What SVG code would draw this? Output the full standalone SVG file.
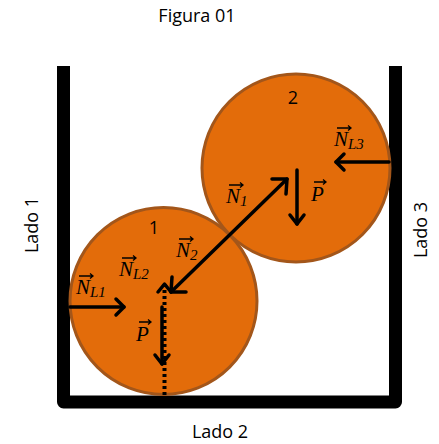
<svg xmlns="http://www.w3.org/2000/svg" width="439" height="444" viewBox="0 0 439 444">
<style>
.ball{fill:#E36C0A;stroke:#A3561A;stroke-width:3}
.vec{stroke:#000;stroke-width:3.5;fill:none;stroke-linecap:round}
.head{stroke:#000;stroke-width:3.5;fill:none;stroke-linecap:round;stroke-linejoin:round}
.lbl{font-family:"Open Sans","Liberation Sans",sans-serif;font-size:18px;fill:#000}
.m{font-family:"Liberation Serif",serif;font-style:italic;font-size:21px;fill:#000}
.s{font-size:15px}
.va{stroke:#000;stroke-width:1.3;fill:none}
</style>
<text class="lbl" x="197" y="22" text-anchor="middle">Figura 01</text>
<g id="container">
<path d="M63.5 66 V402 H395.5 V66" fill="none" stroke="#000" stroke-width="13" stroke-linejoin="round"/>
</g>
<text class="lbl" x="220" y="438" text-anchor="middle">Lado 2</text>
<text class="lbl" transform="translate(38,225) rotate(-90)" text-anchor="middle">Lado 1</text>
<text class="lbl" transform="translate(427,230) rotate(-90)" text-anchor="middle">Lado 3</text>
<g id="ball1">
<circle class="ball" cx="163.5" cy="301" r="93.5"/>
<text class="lbl" x="154" y="234" text-anchor="middle">1</text>
</g>
<g id="ball2">
<circle class="ball" cx="296" cy="168" r="94"/>
<text class="lbl" x="293" y="104" text-anchor="middle">2</text>
</g>
<g id="connectors">
<line class="vec" x1="171" y1="292" x2="287" y2="179"/>
<polyline class="head" points="186,292 171,292 172,277"/>
<polyline class="head" points="272,179 287,179 286,194"/>
<line class="vec" x1="70" y1="307" x2="124" y2="307"/>
<polyline class="head" points="116,299 124,307 116,315"/>
<line x1="164.5" y1="284" x2="164.5" y2="396" stroke="#000" stroke-width="4" stroke-dasharray="3,3"/>
<polyline class="head" points="158,292 164.5,284 171,292"/>
<line class="vec" x1="162" y1="307" x2="162" y2="364"/>
<polyline class="head" points="155,355 162,364 169,355"/>
<line class="vec" x1="297" y1="170" x2="297" y2="224"/>
<polyline class="head" points="290,215 297,224 304,215"/>
<line class="vec" x1="389" y1="162" x2="336" y2="162"/>
<polyline class="head" points="344,154 336,162 344,170"/>
</g>
<g id="labels">
<text class="m" x="76" y="294">N<tspan class="s" dy="3">L1</tspan></text>
<path class="va" d="M79 276 H93 M90 273.5 L93 276 L90 278.5"/>
<text class="m" x="119" y="276">N<tspan class="s" dy="3">L2</tspan></text>
<path class="va" d="M122 258 H136 M133 255.5 L136 258 L133 260.5"/>
<text class="m" x="176" y="257">N<tspan class="s" dy="3">2</tspan></text>
<path class="va" d="M179 239 H193 M190 236.5 L193 239 L190 241.5"/>
<text class="m" x="136" y="341">P</text>
<path class="va" d="M139 322 H151 M148 319.5 L151 322 L148 324.5"/>
<text class="m" x="334" y="146">N<tspan class="s" dy="3">L3</tspan></text>
<path class="va" d="M337 128 H351 M348 125.5 L351 128 L348 130.5"/>
<text class="m" x="226" y="203">N<tspan class="s" dy="3">1</tspan></text>
<path class="va" d="M229 185 H243 M240 182.5 L243 185 L240 187.5"/>
<text class="m" x="311" y="201">P</text>
<path class="va" d="M314 182 H326 M323 179.5 L326 182 L323 184.5"/>
</g>
</svg>
